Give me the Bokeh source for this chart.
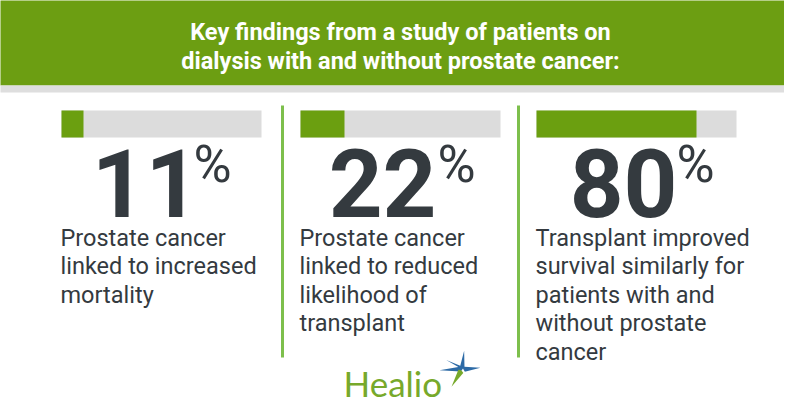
import math
from bokeh.plotting import figure
from bokeh.models import Range1d
from bokeh.core.properties import value
from bokeh.embed import file_html
from bokeh.resources import INLINE

# ---- data ----
title_lines = ["Key findings from a study of patients on",
               "dialysis with and without prostate cancer:"]
percents = [11, 22, 80]
number_labels = ["11", "22", "80"]
descriptions = [
    ["Prostate cancer", "linked to increased", "mortality"],
    ["Prostate cancer", "linked to reduced", "likelihood of", "transplant"],
    ["Transplant improved", "survival similarly for", "patients with and",
     "without prostate", "cancer"],
]
brand = "Healio"

# ---- layout / style ----
GREEN_HEAD = "#6c9e12"
GREEN_BAR = "#6b9f10"
GRAY_BAR = "#dcdcdc"
SEP = "#7dbf4c"
TXT = "#343a3f"

W, H = 784, 404
X0, X1 = 0, W
Y0, Y1 = 0, H


def base(y, size):
    # bokeh places "alphabetic" text a little lower; compensate
    return y - (0.36 * size - 1)


p = figure(width=W, height=H, x_range=Range1d(X0, X1), y_range=Range1d(Y1, Y0),
           output_backend="svg", toolbar_location=None,
           x_axis_type=None, y_axis_type=None, min_border=0,
           min_border_left=0, min_border_right=0, min_border_top=0, min_border_bottom=0)
p.outline_line_color = None
p.background_fill_color = "white"
p.border_fill_color = "white"
p.xgrid.visible = False
p.ygrid.visible = False

# header
p.quad(left=-10, right=W + 10, top=-10, bottom=85, fill_color=GREEN_HEAD, line_color=None)
p.quad(left=-10, right=W + 10, top=85, bottom=92, fill_color="#dedede", line_color=None)
for i, line in enumerate(title_lines):
    p.text(x=[400], y=[base(38.5 + i * 29, 23.5)], text=[line], text_align="center",
           text_baseline="alphabetic", text_font=value("Roboto"), text_font_size="23.5px",
           text_font_style="bold", text_color="white")

# bars, one scale per panel (100 % = 200 px)
bar_left = [61, 300, 536]
bar_px = 200.0
bar_y, bar_h = 123.5, 27
num_right = [199, 436, 677]
pct_x = [193, 437, 676]
for i, pct in enumerate(percents):
    k = bar_px / 100.0
    name = f"panel{i}"
    p.extra_x_ranges[name] = Range1d((X0 - bar_left[i]) / k, (X1 - bar_left[i]) / k)
    p.hbar(y=[bar_y], left=[0], right=[100], height=bar_h, fill_color=GRAY_BAR,
           line_color=None, x_range_name=name)
    p.hbar(y=[bar_y], left=[0], right=[pct], height=bar_h, fill_color=GREEN_BAR,
           line_color=None, x_range_name=name)
    p.text(x=[num_right[i]], y=[base(215, 94)], text=[number_labels[i]], text_align="right",
           text_baseline="alphabetic", text_font=value("Roboto"),
           text_font_size="94px", text_font_style="bold", text_color=TXT)
    p.text(x=[pct_x[i]], y=[183 - 19], text=["%"], text_align="left",
           text_baseline="alphabetic", text_font=value("Roboto"),
           text_font_size="52px", text_color=TXT)
    for j, line in enumerate(descriptions[i]):
        p.text(x=[bar_left[i] - 1], y=[base(245 + j * 28.4, 23.5)], text=[line],
               text_align="left", text_baseline="alphabetic", text_font=value("Roboto"),
               text_font_size="23.5px", text_color=TXT)

# separators
p.segment(x0=[282, 518], y0=[105, 105], x1=[282, 518], y1=[357, 357],
          line_color=SEP, line_width=3)

# logo
p.text(x=[343], y=[base(394, 35)], text=[brand], text_align="left",
       text_baseline="alphabetic", text_font=value("Lato"), text_font_size="35px",
       text_line_height=1.0, text_color="#77a92b")
cx, cy = 461, 369
angles = [-148, -82, -5, 178]
rad = [18, 19, 19, 22]
xs, ys = [], []
for a, r in zip(angles, rad):
    t = math.radians(a)
    xs.append(cx + r * math.cos(t)); ys.append(cy + r * math.sin(t))
    t2 = math.radians(a + 40)
    xs.append(cx + 4 * math.cos(t2)); ys.append(cy + 4 * math.sin(t2))
p.patch(xs, ys, fill_color="#2c6aa6", line_color=None)
t = math.radians(120)
p.patch([cx - 3, cx + 3, cx + 20 * math.cos(t)], [cy, cy + 2, cy + 20 * math.sin(t)],
        fill_color="#77a92b", line_color=None)
t = math.radians(55)
p.patch([cx, cx + 1.5, cx + 16 * math.cos(t)], [cy + 1, cy - 1, cy + 16 * math.sin(t)],
        fill_color="white", line_color=None)

open("out.html", "w").write(file_html(p, INLINE))
